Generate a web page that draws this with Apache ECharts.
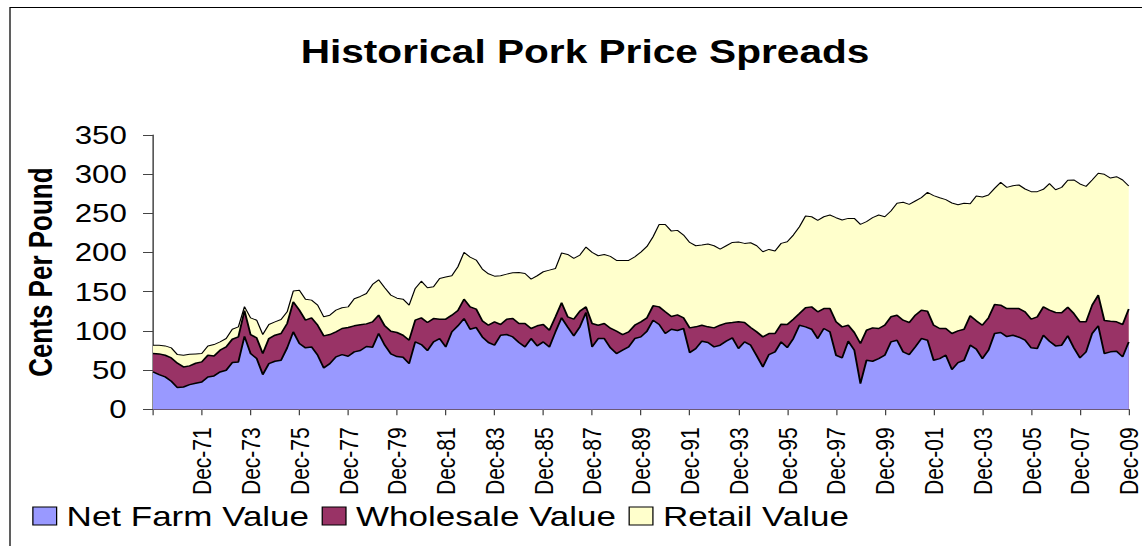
<!DOCTYPE html>
<html>
<head>
<meta charset="utf-8">
<title>Historical Pork Price Spreads</title>
<script src="https://cdn.jsdelivr.net/npm/echarts@6/dist/echarts.min.js"></script>
<style>
  html, body { margin: 0; padding: 0; background: #fff; overflow: hidden; }
  /* the original Excel chart is stretched sideways, so draw narrow and widen it */
  #chart { position: absolute; left: 0; top: 0; width: 913.6px; height: 546px; transform: scaleX(1.25); transform-origin: 0 0; }
</style>
</head>
<body>
<div id="chart"></div>
<script>
// quarterly points, Dec-69 .. Dec-09, cents per pound
const months = ['Mar', 'Jun', 'Sep', 'Dec']
const categories = ['Dec-69']
for (let y = 1970; y <= 2009; y++) {
  for (const m of months) categories.push(m + '-' + String(y).slice(2))
}

const retailValue = [
  81.8, 81.8, 80.9, 78.4, 69.8, 69.0, 70.3, 70.7, 71.1, 80.9,
  82.6, 86.0, 90.3, 102.2, 105.2, 131.0, 116.7, 113.7, 95.4, 108.2,
  111.6, 114.6, 124.4, 150.8, 152.0, 140.5, 139.3, 132.9, 118.0, 120.1,
  126.5, 129.5, 130.7, 141.0, 144.0, 147.8, 159.3, 165.2, 155.0, 145.7,
  141.8, 140.5, 132.9, 154.2, 163.5, 155.0, 156.3, 167.0, 168.7, 170.4,
  181.9, 200.2, 194.2, 190.4, 178.9, 172.9, 169.9, 170.4, 172.5, 174.2,
  174.6, 173.3, 166.1, 170.4, 175.5, 177.6, 179.7, 199.5, 197.6, 192.5,
  196.8, 207.0, 200.2, 195.9, 197.6, 195.1, 190.0, 190.0, 190.0, 194.6,
  200.6, 207.8, 220.2, 235.9, 235.9, 227.4, 228.3, 222.3, 212.9, 208.7,
  209.5, 210.8, 208.7, 204.4, 208.7, 212.9, 213.4, 211.7, 212.5, 208.7,
  201.0, 204.0, 201.9, 211.7, 213.8, 222.3, 233.0, 246.6, 245.7, 241.1,
  245.7, 247.9, 244.5, 241.5, 243.6, 243.6, 235.9, 239.4, 244.5, 247.9,
  245.7, 253.0, 262.8, 264.1, 261.5, 265.8, 270.0, 276.8, 272.6, 270.0,
  267.5, 263.2, 261.1, 262.8, 262.4, 272.1, 270.9, 273.4, 281.9, 289.6,
  283.2, 285.3, 286.2, 281.1, 277.7, 277.7, 280.7, 287.9, 280.2, 283.2,
  292.2, 292.6, 287.5, 284.5, 292.5, 301.1, 299.8, 295.1, 296.8, 292.6,
  284.9
]

const wholesaleValue = [
  71.1, 70.7, 69.0, 65.6, 58.8, 54.1, 55.4, 58.8, 60.5, 69.0,
  68.1, 75.4, 79.6, 89.4, 92.4, 126.0, 95.4, 91.1, 71.1, 90.3,
  94.5, 96.7, 109.5, 137.1, 126.5, 113.7, 116.7, 107.3, 93.7, 95.4,
  98.8, 103.1, 104.3, 106.5, 107.8, 109.0, 111.6, 120.1, 106.5, 99.7,
  98.0, 94.5, 88.2, 113.7, 116.7, 110.7, 115.8, 115.0, 115.0, 120.1,
  126.1, 140.5, 130.7, 127.8, 112.9, 107.3, 111.6, 108.2, 115.0, 115.8,
  109.5, 109.5, 103.1, 106.5, 108.2, 100.9, 118.0, 135.9, 118.0, 115.0,
  125.2, 130.7, 109.5, 107.3, 109.5, 103.5, 99.7, 95.4, 98.8, 107.3,
  111.6, 116.7, 132.0, 130.7, 124.4, 118.4, 120.5, 116.7, 103.9, 105.2,
  107.3, 105.2, 103.9, 107.3, 109.9, 110.7, 111.6, 110.7, 104.3, 98.8,
  92.4, 96.7, 96.7, 108.6, 108.2, 115.0, 122.2, 129.5, 130.7, 124.4,
  128.6, 128.6, 111.6, 105.2, 107.3, 98.0, 83.9, 100.9, 103.9, 103.1,
  107.3, 118.0, 120.1, 113.7, 110.7, 120.1, 126.5, 125.2, 107.3, 103.1,
  103.1, 96.7, 100.1, 102.2, 119.3, 112.9, 107.3, 116.7, 133.7, 132.9,
  128.6, 128.6, 128.6, 124.4, 115.0, 118.0, 130.7, 126.5, 123.5, 123.1,
  130.3, 122.2, 111.6, 111.6, 132.9, 145.7, 113.3, 112.4, 111.6, 108.2,
  128.0
]

const farmValue = [
  47.7, 44.3, 41.3, 35.8, 27.7, 28.5, 31.5, 33.2, 34.9, 41.3,
  42.6, 47.7, 49.8, 59.6, 60.5, 93.0, 71.1, 64.7, 44.3, 58.3,
  61.3, 62.6, 78.4, 98.8, 83.9, 78.4, 79.6, 69.0, 52.8, 58.3,
  66.9, 69.8, 67.7, 73.3, 75.0, 80.1, 79.2, 96.7, 81.8, 70.7,
  67.3, 66.4, 58.3, 86.0, 82.6, 75.0, 86.0, 90.3, 79.6, 98.8,
  106.5, 115.8, 102.2, 104.3, 92.4, 85.2, 81.8, 94.5, 95.4, 92.4,
  85.2, 79.6, 90.3, 80.9, 86.0, 79.6, 98.8, 116.7, 104.8, 93.7,
  105.2, 123.5, 79.6, 90.3, 90.3, 78.4, 71.1, 75.4, 79.6, 90.3,
  92.4, 99.7, 113.7, 108.2, 96.7, 102.2, 100.5, 103.1, 72.4, 77.5,
  86.9, 85.2, 79.6, 81.8, 86.9, 91.1, 77.5, 86.0, 81.8, 68.1,
  54.1, 69.8, 73.3, 86.0, 78.8, 90.3, 107.3, 105.2, 102.2, 90.3,
  103.1, 98.8, 69.0, 65.6, 86.9, 75.4, 32.8, 62.6, 61.3, 64.7,
  69.0, 86.0, 88.2, 73.3, 69.8, 79.6, 90.3, 88.2, 62.6, 64.7,
  69.0, 50.7, 59.6, 62.6, 81.8, 76.7, 64.7, 75.4, 96.7, 98.0,
  92.8, 94.5, 92.0, 88.2, 78.4, 77.5, 94.5, 86.9, 80.9, 81.8,
  93.7, 78.4, 65.6, 73.3, 96.7, 106.5, 71.1, 73.3, 74.1, 66.9,
  86.0
]

const FONT = '"Liberation Sans", Arial, sans-serif'
const colors = { farm: '#9999FF', wholesale: '#993366', retail: '#FFFFCC' }

const chart = echarts.init(document.getElementById('chart'), null, { renderer: 'svg' })

const areaSeries = (name, data, color, lineWidth) => ({
  name,
  type: 'line',
  data,
  symbol: 'none',
  lineStyle: { color: '#000', width: lineWidth },
  itemStyle: { color },
  areaStyle: { color, opacity: 1 },
  emphasis: { disabled: true }
})

chart.setOption({
  animation: false,
  textStyle: { fontFamily: FONT },
  title: {
    text: 'Historical Pork Price Spreads',
    left: 463,
    top: 30,
    textAlign: 'center',
    textStyle: { fontFamily: FONT, fontSize: 32.5, fontWeight: 'bold', color: '#000' }
  },
  legend: {
    left: 20.8,
    top: 497,
    selectedMode: false,
    icon: 'rect',
    itemWidth: 19,
    itemHeight: 18,
    itemGap: 10,
    itemStyle: { borderColor: '#000', borderWidth: 1 },
    textStyle: { fontFamily: FONT, fontSize: 28, color: '#000', padding: [0, 0, 0, 3] },
    data: [
      { name: 'Net Farm Value', itemStyle: { color: colors.farm } },
      { name: 'Wholesale Value', itemStyle: { color: colors.wholesale } },
      { name: 'Retail Value', itemStyle: { color: colors.retail } }
    ]
  },
  grid: { left: 122.4, right: 11, top: 135, bottom: 136.7, containLabel: false },
  xAxis: {
    type: 'category',
    data: categories,
    boundaryGap: false,
    axisLine: { lineStyle: { color: '#222', width: 1 } },
    axisTick: { interval: 7, length: 6, lineStyle: { color: '#444' } },
    axisLabel: {
      interval: (i) => i > 0 && i % 8 === 0,
      rotate: 90,
      margin: 18,
      lineHeight: 18,
      fontFamily: FONT,
      fontSize: 21,
      color: '#000'
    },
    splitLine: { show: false }
  },
  yAxis: {
    type: 'value',
    min: 0,
    max: 350,
    interval: 50,
    name: 'Cents Per Pound',
    nameLocation: 'middle',
    nameGap: 77,
    nameTextStyle: { fontFamily: FONT, fontSize: 26, fontWeight: 'bold', color: '#000' },
    axisLine: { show: true, lineStyle: { color: '#222', width: 1 } },
    axisTick: { show: true, length: 8, lineStyle: { color: '#444' } },
    axisLabel: { margin: 21, fontFamily: FONT, fontSize: 25, color: '#000' },
    splitLine: { show: false }
  },
  graphic: [{
    type: 'rect',
    silent: true,
    shape: { x: 8, y: 7.5, width: 1000, height: 700 },
    style: { fill: 'none', stroke: '#000', lineWidth: 1 }
  }],
  // drawn back to front: retail behind, farm value in front
  series: [
    areaSeries('Retail Value', retailValue, colors.retail, 1),
    areaSeries('Wholesale Value', wholesaleValue, colors.wholesale, 1.5),
    areaSeries('Net Farm Value', farmValue, colors.farm, 1.5)
  ]
})
</script>
</body>
</html>
